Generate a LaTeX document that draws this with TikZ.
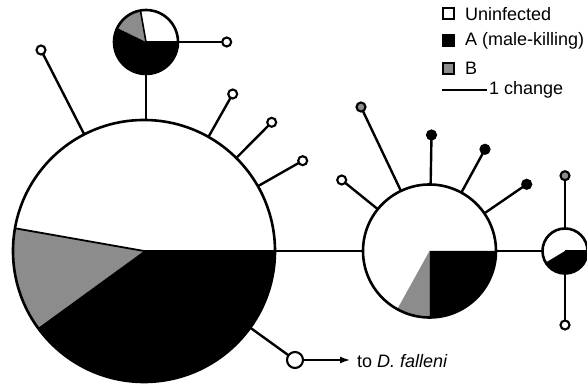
\documentclass[tikz,border=0pt]{standalone}
\usepackage{fontspec}
\setmainfont{Liberation Sans}
\usepackage{xcolor}
\usetikzlibrary{arrows.meta,positioning,backgrounds}

\definecolor{infB}{gray}{0.55}

\begin{document}
\begin{tikzpicture}[x=1pt, y=1pt, >={Latex[length=10pt,width=7pt]},
    hap/.style={draw, circle, line width=2.6pt, inner sep=0pt, outer sep=0pt},
    tip/.style={draw, circle, line width=2.1pt, fill=white, inner sep=0pt, outer sep=0pt, minimum size=9pt},
    branch/.style={line width=2.4pt},
    link/.style={line width=1.8pt},
    keybox/.style={draw, line width=2pt, minimum size=11pt, inner sep=0pt},
    lab/.style={font=\fontsize{18}{20}\selectfont, anchor=west, inner sep=0pt}]
    \useasboundingbox (0,0) rectangle (587,385);

    % Haplotypes
    \node[hap, minimum size=262pt] (hbig) at (144,134) {};
    \node[hap, minimum size=64pt] (htop) at (146,343) {};
    \node[hap, minimum size=133pt] (hmid) at (429.5,134) {};
    \node[hap, minimum size=45pt] (hright) at (565,134) {};

    % Infection frequencies
    \begin{scope}[on background layer]
        \fill[infB] (hbig.center) -- ++(170:131) arc[start angle=170, end angle=216, radius=131] -- cycle;
        \fill[black] (hbig.center) -- ++(216:131) arc[start angle=216, end angle=360, radius=131] -- cycle;
        \fill[infB] (htop.center) -- ++(100:32) arc[start angle=100, end angle=154, radius=32] -- cycle;
        \fill[black] (htop.center) -- ++(154:32) arc[start angle=154, end angle=360, radius=32] -- cycle;
        \fill[infB] (hmid.center) -- ++(241:66.5) arc[start angle=241, end angle=270, radius=66.5] -- cycle;
        \fill[black] (hmid.center) -- ++(270:66.5) arc[start angle=270, end angle=360, radius=66.5] -- cycle;
        \fill[black] (hright.center) -- ++(211:22.5) arc[start angle=211, end angle=360, radius=22.5] -- cycle;
    \end{scope}
    \draw[line width=1.8pt] (hbig.center) -- (hbig.170);
    \draw[line width=1.8pt] (hbig.center) -- (hbig.0);
    \draw[line width=1.6pt] (htop.center) -- (htop.100);
    \draw[line width=1.6pt] (htop.center) -- (htop.0);
    \draw[line width=1.6pt] (hright.center) -- (hright.0);

    % Tips
    \node[tip] (tl) at (41,335) {};
    \node[tip] (t1) at (232.7,291) {};
    \node[tip] (t2) at (271.7,262.7) {};
    \node[tip] (t3) at (302.7,224.3) {};
    \node[tip, minimum size=16pt] (tout) at (295,25) {};
    \node[tip] (ttop) at (226.7,343) {};
    \node[tip] (m1) at (341.7,205) {};
    \node[tip, fill=infB] (m2) at (361,278) {};
    \node[tip, fill=black] (m3) at (431.5,250) {};
    \node[tip, fill=black] (m4) at (485,235.7) {};
    \node[tip, fill=black] (m5) at (526.7,200.7) {};
    \node[tip, fill=infB] (r1) at (565,209.3) {};
    \node[tip] (r2) at (565,60) {};
    \coordinate (fal) at (350,25);

    % Branches
    \draw[branch] (htop.south) -- (htop.south |- hbig.north);
    \draw[branch] (htop) -- (ttop);
    \draw[branch] (hbig) -- (tl);
    \draw[branch] (hbig) -- (t1);
    \draw[branch] (hbig) -- (t2);
    \draw[branch] (hbig) -- (t3);
    \draw[branch] (hbig) -- (tout);
    \draw[link] (hbig) -- (hmid);
    \draw[branch] (hmid) -- (m1);
    \draw[branch] (hmid) -- (m2);
    \draw[branch] (hmid) -- (m3);
    \draw[branch] (hmid) -- (m4);
    \draw[branch] (hmid) -- (m5);
    \draw[link] (hmid) -- (hright);
    \draw[branch] (hright) -- (r1);
    \draw[branch] (hright) -- (r2);
    \draw[->, line width=1.4pt] (tout) -- (fal);
    \node[lab] (falleni) at (357,24) {to \textit{D. falleni}};

    % Legend
    \node[keybox, fill=white] (kun) at (448,371) {};
    \node[keybox, fill=black] (kA) at (448,344) {};
    \node[keybox, fill=infB] (kB) at (448,316.5) {};
    \node[lab] (lun) at (465,371) {Uninfected};
    \node[lab] (lA) at (465,344) {A (male-killing)};
    \node[lab] (lB) at (465,316.5) {B};
    \coordinate (sc1) at (442,295);
    \coordinate (sc2) at (487,295);
    \draw[line width=1.8pt] (sc1) -- (sc2);
    \node[lab] (lsc) at (489,295) {1 change};
\end{tikzpicture}
\end{document}
